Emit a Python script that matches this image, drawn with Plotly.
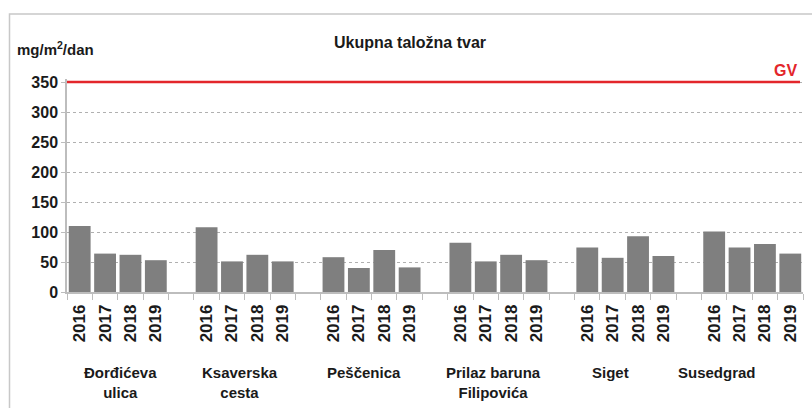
import plotly.graph_objects as go

# ---- data ----
stations = ["Đorđićeva<br>ulica", "Ksaverska<br>cesta", "Peščenica",
            "Prilaz baruna<br>Filipovića", "Siget", "Susedgrad"]
years = ["2016", "2017", "2018", "2019"]
v_dordiceva = [110, 64, 62, 53]
v_ksaverska = [108, 51, 62, 51]
v_pescenica = [58, 40, 70, 41]
v_prilaz = [82, 51, 62, 53]
v_siget = [74, 57, 93, 60]
v_susedgrad = [101, 74, 80, 64]
limit_gv = 350
y_ticks = [0, 50, 100, 150, 200, 250, 300, 350]

series = [v_dordiceva, v_ksaverska, v_pescenica, v_prilaz, v_siget, v_susedgrad]

# horizontal nudges of the group labels (layout only, in px)
label_xshift = [3, -5, -8, -5, -15, -35]

# build category axis: 4 years per station plus an empty spacer between groups
cats, vals, texts, group_keys = [], [], [], []
for gi, (name, vs) in enumerate(zip(stations, series)):
    keys = []
    for y, v in zip(years, vs):
        k = f"{gi}-{y}"
        cats.append(k); vals.append(v); texts.append(y); keys.append(k)
    group_keys.append(keys)
    if gi < len(stations) - 1:
        cats.append(f"gap{gi}"); vals.append(None); texts.append(" ")

FONT = "Liberation Sans, Arial, sans-serif"

fig = go.Figure()
fig.add_trace(go.Bar(x=cats, y=vals, marker=dict(color="#7f7f7f", line=dict(width=0)),
                     width=0.86, showlegend=False, hoverinfo="skip"))

W, H = 812, 408
L, R, T, B = 67, 9, 79, 116
pw = W - L - R
ph = H - T - B
ymax = 355

fig.update_layout(
    width=W, height=H,
    margin=dict(l=L, r=R, t=T, b=B, autoexpand=False),
    paper_bgcolor="white", plot_bgcolor="white",
    font=dict(family=FONT, color="#1a1a1a"),
    title=dict(text="<b>Ukupna taložna tvar</b>", x=410 / W, xref="container", xanchor="center",
               y=1 - 42 / H, yref="container", yanchor="middle",
               font=dict(size=16, family=FONT, color="#1a1a1a")),
)
fig.update_xaxes(
    type="category", categoryorder="array", categoryarray=cats,
    tickmode="array", tickvals=cats, ticktext=[f"<b>{t}</b>" if t.strip() else " " for t in texts],
    tickangle=-90, tickfont=dict(size=17, family=FONT, color="#1a1a1a"),
    tickson="boundaries", ticks="outside", ticklen=6, tickcolor="#bdbdbd", tickwidth=1,
    ticklabelstandoff=4,
    showline=True, linecolor="#bdbdbd", linewidth=1.5, showgrid=False,
    range=[-0.5, len(cats) - 0.5],
)
fig.update_yaxes(
    range=[0, ymax], tickmode="array", tickvals=y_ticks,
    ticktext=[f"<b>{t}</b>" for t in y_ticks],
    tickfont=dict(size=16, family=FONT, color="#1a1a1a"),
    ticks="outside", ticklen=4, tickcolor="#bdbdbd",
    showline=True, linecolor="#bdbdbd", linewidth=1.5,
    showgrid=True, gridcolor="#b0b0b0", griddash="3px,3px", gridwidth=1,
    zeroline=False,
)

# GV limit line
fig.add_shape(type="line", xref="paper", yref="y", x0=0, x1=(800 - L) / pw,
              y0=limit_gv, y1=limit_gv, line=dict(color="#e3262b", width=2.5), layer="above")
fig.add_annotation(text="<b>GV</b>", xref="paper", yref="paper",
                   x=(799 - L) / pw, xanchor="right",
                   y=(H - B - 70) / ph, yanchor="middle", showarrow=False,
                   font=dict(size=16, family=FONT, color="#e3262b"))

# unit label
fig.add_annotation(text="<b>mg/m<sup>2</sup>/dan</b>", xref="paper", yref="paper",
                   x=(15 - L) / pw, xanchor="left",
                   y=(H - B - 49) / ph, yanchor="middle", showarrow=False,
                   font=dict(size=15, family=FONT, color="#1a1a1a"))

# group labels
for name, keys, dx in zip(stations, group_keys, label_xshift):
    i0 = cats.index(keys[0]); i1 = cats.index(keys[-1])
    xc = (i0 + i1) / 2
    fig.add_annotation(text=f"<b>{name}</b>", x=xc, xref="x", y=0, yref="paper",
                       yanchor="top", yshift=-70, xshift=dx, showarrow=False, align="center",
                       font=dict(size=15, family=FONT, color="#1a1a1a"))

# outer frame
fig.add_shape(type="rect", xref="paper", yref="paper",
              x0=(9.5 - L) / pw, x1=(W + 20 - L) / pw,
              y0=-(B + 20) / ph, y1=(H - B - 14) / ph,
              line=dict(color="#c8c8c8", width=1.5), layer="below")

fig.write_html("out.html", config={"displayModeBar": False},
               post_script="document.body.style.margin='0';")
